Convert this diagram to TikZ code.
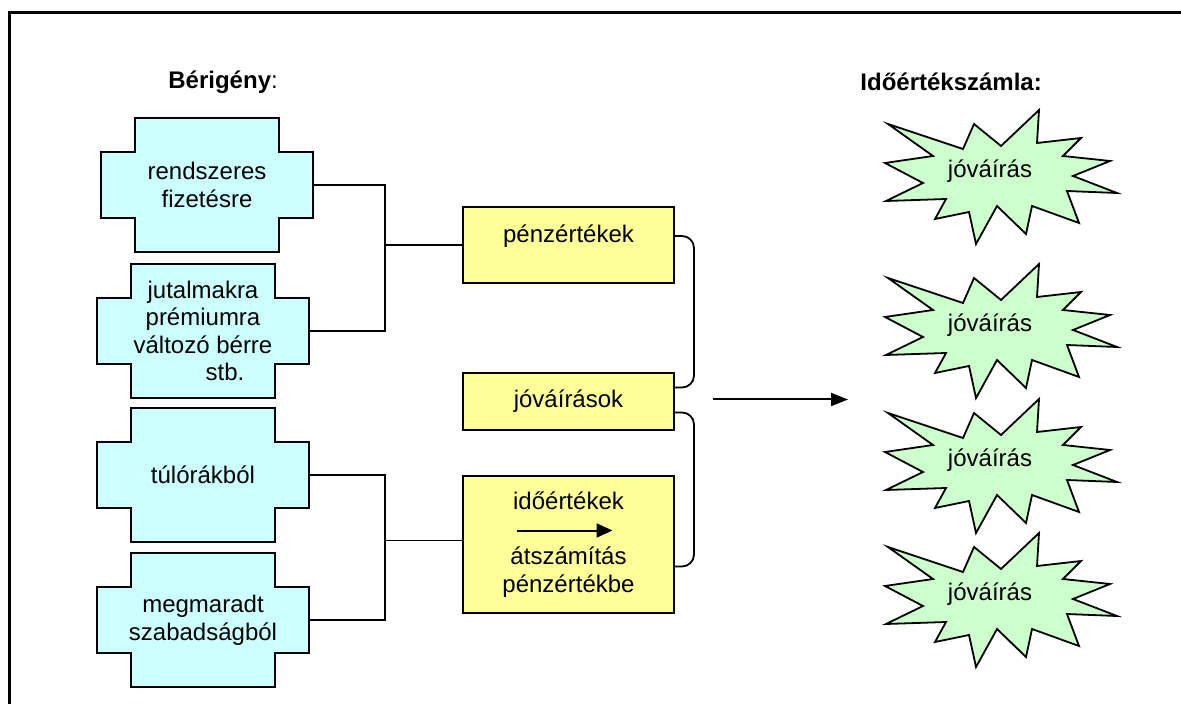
\documentclass[tikz,border=0pt]{standalone}
\usepackage{fontspec}
\setmainfont{Liberation Sans}
\usepackage{tikz}
\usetikzlibrary{arrows.meta,calc}
\definecolor{paleblue}{HTML}{CCFFFF}
\definecolor{paleyellow}{HTML}{FFFF99}
\definecolor{palegreen}{HTML}{CCFFCC}
\newcommand{\figfont}{\fontsize{12}{13.8}\selectfont}
\tikzset{
  plusline/.style={draw=black, fill=paleblue, line width=1pt, line join=miter},
  plusnode/.style={rectangle, minimum width=106pt, minimum height=33pt, inner sep=0pt, align=center},
  burstline/.style={draw=black, fill=palegreen, line width=0.9pt, line join=miter},
  bursttext/.style={inner sep=0pt},
  valbox/.style={rectangle, draw=black, fill=paleyellow, line width=1pt, minimum width=105.5pt,
                 inner sep=0pt, align=center},
  title/.style={anchor=west, inner sep=0pt},
  frame/.style={draw=black, line width=1.5pt},
  wire/.style={draw=black, line width=0.9pt},
  brace/.style={wire, rounded corners=6pt},
  flow/.style={-{Triangle[length=8.5pt,width=6.5pt]}, draw=black, line width=1pt},
  inflow/.style={-{Triangle[length=8pt,width=7pt]}, draw=black, line width=1pt},
}
% cross shaped box: name, centre, text
\newcommand{\plusbox}[3]{%
  \draw[plusline, shift={(#2)}] (-72,-67) -- ++(144,0) -- ++(0,34) -- ++(34,0) -- ++(0,66)
    -- ++(-34,0) -- ++(0,34) -- ++(-144,0) -- ++(0,-34) -- ++(-34,0) -- ++(0,-66) -- ++(34,0) -- cycle;
  \node[plusnode] (#1) at (#2) {#3};}
% explosion shape: name, centre, text
\newcommand{\burstnode}[3]{%
  \draw[burstline, shift={(#2)}] (-102,-47) -- (-27,-22) -- (-16,-47) -- (11,-25) -- (49,-61)
    -- (47,-28) -- (91,-33) -- (73,-15) -- (120,-10) -- (83,5) -- (127,22) -- (77,20) -- (89,52)
    -- (42,35) -- (36,63) -- (7,35) -- (-14,73) -- (-21,41) -- (-55,48) -- (-44,28) -- (-104,30)
    -- (-67,12) -- (-105,-8) -- (-57,-15) -- cycle;
  \node[bursttext] (#1) at (#2) {#3};}

\begin{document}
\begin{tikzpicture}[x=0.5pt, y=-0.5pt, every node/.style={font=\figfont}]
\useasboundingbox (0,0) rectangle (1181,704);
\draw[frame] (9,704) -- (9,13) -- (1181,13);

\node[title] (tb) at (168,82) {\textbf{Bérigény}:};
\node[title] (ti) at (860,82) {\textbf{Időértékszámla:}};

\plusbox{c1}{207,185}{rendszeres\\fizetésre}
\plusbox{c2}{203,331}{jutalmakra\\prémiumra\\változó bérre\\\hspace*{22pt}stb.}
\plusbox{c3}{203,475}{túlórákból}
\plusbox{c4}{203,620}{megmaradt\\szabadságból}

\node[valbox, minimum height=38pt]   (pe)  at (568.5,245)   {pénzértékek\\[-2pt]\mbox{}};
\node[valbox, minimum height=28.5pt] (jo)  at (568.5,401.5) {jóváírások};
\node[valbox, minimum height=68.5pt] (ido) at (568.5,544.5) {időértékek\\[14pt]átszámítás\\pénzértékbe};

\coordinate (jpe)  at ($(pe.west)+(-77,0)$);
\coordinate (jido) at ($(ido.west)+(-77,-4)$);
\draw[wire] (c1.east) -| (jpe) |- (c2.east);
\draw[wire] (jpe) -- (pe.west);
\draw[wire] (c3.east) -| (jido) |- (c4.east);
\draw[wire] (jido) -- (jido -| ido.west);

\draw[inflow] ($(ido.center)+(-52,-14)$) -- ($(ido.center)+(44,-14)$);

\draw[brace] ($(pe.east)+(0,-9)$) -- ++(19,0) |- ($(jo.east)+(0,-14)$);
\draw[brace] ($(jo.east)+(0,11)$) -- ++(19,0) |- ($(ido.east)+(0,22)$);

\coordinate (arrtail) at ($(jo.east)+(38,-2)$);
\coordinate (arrtip)  at ($(jo.east)+(173,-2)$);
\draw[flow] (arrtail) -- (arrtip);

\foreach \y [count=\i] in {171,325,460,594} {\burstnode{jv\i}{990,\y}{jóváírás}}
\end{tikzpicture}
\end{document}
